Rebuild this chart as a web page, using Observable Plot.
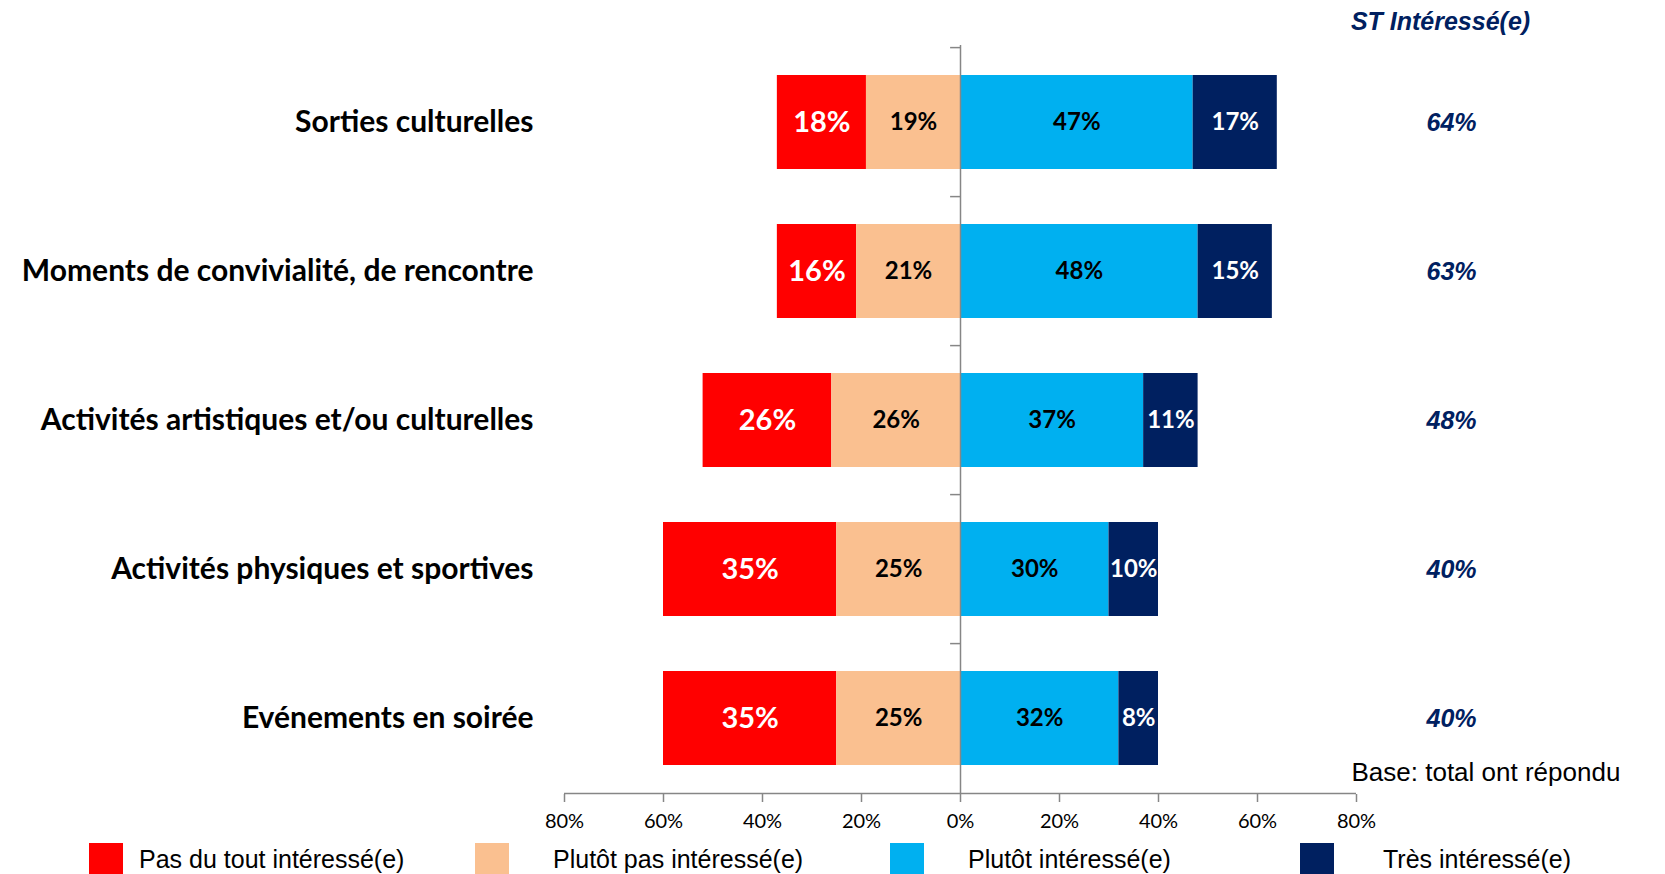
<!DOCTYPE html>
<html><head><meta charset="utf-8">
<script src="https://cdn.jsdelivr.net/npm/d3@7"></script>
<script src="https://cdn.jsdelivr.net/npm/@observablehq/plot@0.6"></script>
<style>
body{margin:0;background:#fff;}
#chart{width:1665px;height:874px;position:relative;overflow:hidden;background:#fff;}
#chart svg{display:block;overflow:visible;}
.legend{position:relative;height:40px;font-family:"Liberation Sans",Arial,sans-serif;font-size:25px;color:#000;}
.sw{position:absolute;width:34px;height:32px;top:9px;}
.lt{position:absolute;top:6px;line-height:38px;white-space:nowrap;}
</style></head><body><div id="chart"></div>
<script>
// ---- data ----
const categories = ["Sorties culturelles","Moments de convivialité, de rencontre","Activités artistiques et/ou culturelles","Activités physiques et sportives","Evénements en soirée"];
const series = ["Pas du tout intéressé(e)","Plutôt pas intéressé(e)","Plutôt intéressé(e)","Très intéressé(e)"];
const pasDuTout = [18,16,26,35,35];
const plutotPas = [19,21,26,25,25];
const plutot = [47,48,37,30,32];
const tres = [17,15,11,10,8];
const stInteresse = [64,63,48,40,40];
const xTicks = [-80,-60,-40,-20,0,20,40,60,80];
const stTitle = "ST Intéressé(e)";
const baseNote = "Base: total ont répondu";

// ---- styles / layout ----
const colors = ["#FF0000","#FAC090","#00B0F0","#002060"];
const navyText = "#002060";
const gray = "#868686";
const W = 1665, H = 834, mT = 45, mB = 40, mL = 564, mR = 309;
const step = (H - mT - mB) / categories.length;
const swatchLeft = [89, 475, 890, 1300];
const textLeft = [139, 553, 968, 1383];

// derived diverging segments
const segs = [];
categories.forEach((c, i) => {
  const a = pasDuTout[i], b = plutotPas[i], p = plutot[i], t = tres[i];
  segs.push({cat: c, s: 0, v: a, x1: -(a + b), x2: -b});
  segs.push({cat: c, s: 1, v: b, x1: -b, x2: 0});
  segs.push({cat: c, s: 2, v: p, x1: 0, x2: p});
  segs.push({cat: c, s: 3, v: t, x1: p, x2: p + t});
});
const mid = d => (d.x1 + d.x2) / 2;
const lbl = d => d.v + "%";
const arialBI = {fill: navyText, fontStyle: "italic", fontWeight: "bold", fontFamily: "Liberation Sans, Arial, sans-serif"};

const chart = Plot.plot({
  width: W, height: H,
  marginTop: mT, marginBottom: mB, marginLeft: mL, marginRight: mR,
  style: {fontFamily: "Lato, sans-serif", background: "#fff", overflow: "visible"},
  x: {domain: [-80, 80], label: null},
  y: {domain: categories, paddingInner: 0.37, paddingOuter: 0.185, label: null},
  color: {domain: series, range: colors},
  marks: [
    Plot.barX(segs, {y: "cat", x1: "x1", x2: "x2", fill: d => series[d.s]}),
    Plot.ruleX([0], {stroke: gray, strokeWidth: 1.5}),
    Plot.ruleY(categories, {y: d => d, x1: -2, x2: 0, dy: -step / 2, stroke: gray, strokeWidth: 1.5}),
    Plot.ruleY(categories.slice(-1), {y: d => d, x1: -80, x2: 80, dy: step / 2, stroke: gray, strokeWidth: 1.5}),
    Plot.axisX(xTicks, {tickFormat: d => Math.abs(d) + "%", tickSize: 8, tickPadding: 11, stroke: gray, strokeWidth: 1.5, fill: "#000", fontSize: 20, label: null}),
    Plot.axisY({tickSize: 0, tickPadding: 31, fontSize: 30, fontWeight: "bold", fill: "#000", label: null}),
    Plot.text(segs.filter(d => d.s === 0), {y: "cat", x: mid, text: lbl, fill: "white", fontSize: 29, fontWeight: "bold"}),
    Plot.text(segs.filter(d => d.s === 1 || d.s === 2), {y: "cat", x: mid, text: lbl, fill: "black", fontSize: 24, fontWeight: "bold"}),
    Plot.text(segs.filter(d => d.s === 3), {y: "cat", x: mid, text: lbl, fill: "white", fontSize: 24, fontWeight: "bold"}),
    Plot.text(categories, {y: d => d, text: (d, i) => stInteresse[i] + "%", frameAnchor: "right", dx: 95, textAnchor: "middle", fontSize: 25, ...arialBI}),
    Plot.text([stTitle], {text: d => d, frameAnchor: "top-right", lineAnchor: "middle", dx: 84, dy: -24, textAnchor: "middle", fontSize: 25, ...arialBI}),
    Plot.text([baseNote], {text: d => d, frameAnchor: "bottom-right", lineAnchor: "middle", dx: -5, dy: -22, textAnchor: "start",
      fill: "#000", fontFamily: "Liberation Sans, Arial, sans-serif", fontSize: 26})
  ]
});
const root = document.getElementById("chart");
root.appendChild(chart);

const legend = document.createElement("div");
legend.className = "legend";
series.forEach((s, i) => {
  const sw = document.createElement("div");
  sw.className = "sw";
  sw.style.left = swatchLeft[i] + "px";
  sw.style.background = colors[i];
  const tx = document.createElement("div");
  tx.className = "lt";
  tx.style.left = textLeft[i] + "px";
  tx.textContent = s;
  legend.appendChild(sw); legend.appendChild(tx);
});
root.appendChild(legend);
</script></body></html>
